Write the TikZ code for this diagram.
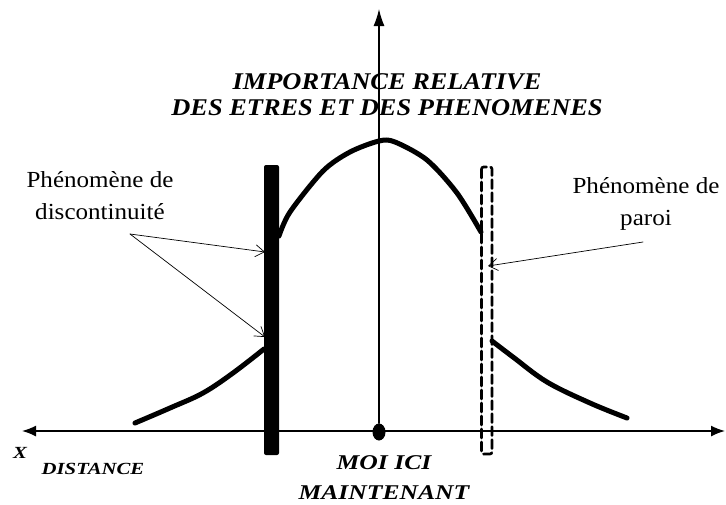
\documentclass[tikz,border=0pt]{standalone}
\usepackage{fontspec}
\setmainfont{Liberation Serif}
\usetikzlibrary{arrows.meta,shapes.geometric}
\definecolor{ink}{HTML}{000000}

\begin{document}
\begin{tikzpicture}[
  x=1pt, y=-1pt,
  line cap=round,
  >=Latex,
  axis/.style={draw=ink, line width=1.5pt},
  curve/.style={draw=ink, line width=5pt, line join=round},
  pointer/.style={draw=ink, line width=0.7pt, -{Straight Barb[length=9pt,width=12pt]}},
  caption/.style={font=\bfseries\itshape\fontsize{24}{26}\selectfont, align=center, inner sep=0pt, anchor=base, xscale=1.1},
  axlabel/.style={font=\bfseries\itshape\fontsize{21}{30}\selectfont, align=center, inner sep=0pt, anchor=base, xscale=1.22},
  note/.style={font=\fontsize{23}{32}\selectfont, align=center, inner sep=0pt, anchor=base, xscale=1.09},
  wallbar/.style={fill=ink, rounded corners=2pt},
  wallline/.style={draw=ink, line width=2.6pt, dash pattern=on 9pt off 4pt, rounded corners=2pt},
]
\useasboundingbox (0,0) rectangle (726,504);

% ---------- axes ----------
\node[ellipse, fill=ink, minimum width=13pt, minimum height=17pt, inner sep=0pt] (moi) at (379,432) {};
\coordinate (haut) at (379,9);
\coordinate (gauche) at (22,431);
\coordinate (droite) at (725,431);
\draw[axis, line width=1.3pt, ->, >={Latex[length=17pt,width=11pt]}] (moi) -- (haut);
\draw[axis, <->, >={Latex[length=14pt,width=11pt]}] (gauche) -- (droite);

% ---------- curve, cut by the two walls ----------
\draw[curve] plot[smooth, tension=0.6] coordinates {(135,423) (170,408) (203,393) (233,373) (264,349)};
\draw[curve] plot[smooth] coordinates {(279,236) (290,212) (323,171) (350,152) (379,141) (395,142) (427,160) (457,193) (481,232)};
\draw[curve] plot[smooth, tension=0.6] coordinates {(492,341) (513,357) (547,382) (590,403) (627,418)};

% ---------- walls ----------
\fill[wallbar] (264,165) rectangle (279,455);
\draw[wallline] (481.5,167) rectangle (492,454);

% ---------- labels (base = last line) ----------
\node[caption] (titre) at (387,115) {IMPORTANCE RELATIVE\\DES ETRES ET DES PHENOMENES};
\node[axlabel, font=\bfseries\itshape\fontsize{17}{20}\selectfont, xscale=1.0] (x) at (20,458) {X};
\node[axlabel, font=\bfseries\itshape\fontsize{17}{20}\selectfont, xscale=1.0] (dist) at (93,474) {DISTANCE};
\node[axlabel] (ici) at (384,499) {MOI ICI\\MAINTENANT};
\node[note] (disc) at (100,219) {Phénomène de\\discontinuité};
\node[note] (paroi) at (646,225) {Phénomène de\\paroi};

% ---------- pointers ----------
\coordinate (discsrc) at (130,234);
\coordinate (disc1) at (265,252);
\coordinate (disc2) at (265,337);
\coordinate (parsrc) at (643,242);
\coordinate (par1) at (488,266);
\draw[pointer] (discsrc) -- (disc1);
\draw[pointer] (discsrc) -- (disc2);
\draw[pointer] (parsrc) -- (par1);
\end{tikzpicture}
\end{document}
